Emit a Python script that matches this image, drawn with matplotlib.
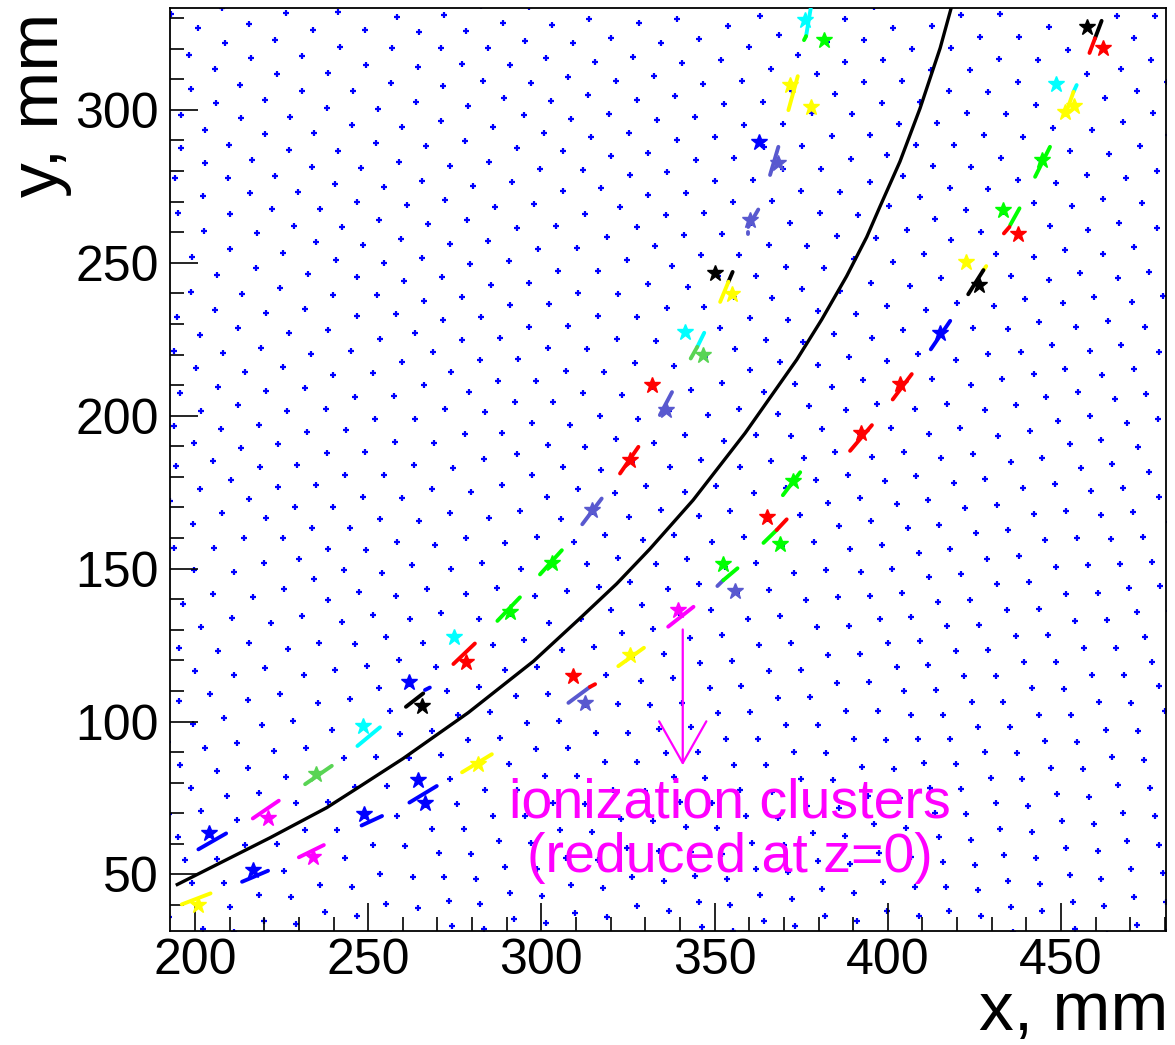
import numpy as np
import matplotlib
matplotlib.use("Agg")
import matplotlib.pyplot as plt
from matplotlib.ticker import MultipleLocator

plt.rcParams['font.family'] = ['Liberation Sans', 'DejaVu Sans']

# ROOT palette (TColor indices used in the picture)
root_col = {1: '#000000', 2: '#ff0000', 3: '#00ff00', 4: '#0000ff', 5: '#ffff00',
            6: '#ff00ff', 7: '#00ffff', 8: '#59d454', 9: '#5959cf'}

# drift chamber wire layout (layers are circles around the beam, z=0)
wire_r0 = 204.75          # radius of first visible layer, mm
wire_dr = 8.945           # layer pitch, mm
sl_first = [0, 8, 16, 24, 32, 40]          # first layer of each superlayer
sl_nwires = [165, 215, 265, 323, 370, 415]  # wires per layer
sl_phase = [0.12, 0.12, 0.0, 0.65, 0.49, 0.02]  # cell phase of even layers
odd_shift = -0.26

# reconstructed track (x, y in mm)
track_x = [194.9, 221.7, 238.0, 246.7, 260.1, 278.9, 297.7, 311.1, 321.7, 331.3,
           343.8, 358.8, 373.7, 380.9, 388.1, 393.9, 397.7, 403.5, 409.3, 415.1, 418.4]
track_y = [46.7, 62.0, 71.8, 78.1, 87.9, 102.9, 119.7, 133.7, 145.0, 156.4,
           172.4, 194.3, 218.3, 231.4, 245.6, 258.4, 268.3, 283.1, 300.5, 320.2, 333.8]

# ionization clusters (segments) : x0, y0, x1, y1, colour
seg_x0 = [196.2, 201.0, 213.6, 230.0, 216.7, 231.8, 246.9, 248.1, 261.9, 260.9, 266.4,
          274.6, 287.3, 299.6, 311.8, 322.7, 307.8, 314.0, 322.2, 336.6, 350.8, 352.5,
          364.1, 367.9, 378.0, 376.4, 374.0, 368.4, 362.6, 359.7, 355.2, 354.0, 347.0, 345.0,
          461.7, 459.8, 454.5, 453.6, 446.8, 438.0, 435.1, 428.4, 427.6, 418.0, 406.9, 395.4,
          369.7, 334.2, 277.1]
seg_y0 = [40.2, 58.2, 47.6, 55.6, 68.3, 79.5, 92.0, 66.0, 73.5, 104.8, 110.3,
          118.8, 132.9, 148.1, 164.5, 181.1, 106.1, 111.3, 118.1, 131.0, 144.3, 146.2,
          158.4, 162.6, 335.0, 324.1, 311.0, 287.9, 267.4, 260.2, 247.0, 243.8, 227.1, 222.5,
          329.1, 323.4, 308.1, 305.9, 287.9, 267.8, 261.7, 248.9, 247.6, 231.0, 213.6, 196.9,
          174.0, 200.2, 83.4]
seg_x1 = [204.5, 209.0, 221.1, 237.2, 224.2, 239.5, 253.4, 254.0, 269.8, 265.9, 267.8,
          280.8, 293.8, 305.9, 317.4, 328.0, 314.0, 315.5, 329.6, 343.9, 352.5, 356.6,
          367.9, 370.8, 376.4, 375.8, 371.3, 366.0, 359.7, 359.7, 354.0, 351.6, 345.0, 343.1,
          459.8, 458.2, 453.6, 451.2, 442.5, 435.3, 433.5, 427.6, 423.2, 412.4, 401.4, 389.1,
          374.7, 337.7, 285.7]
seg_y1 = [43.8, 63.4, 51.2, 59.6, 74.1, 85.5, 98.1, 69.1, 78.9, 109.2, 111.1,
          125.5, 140.6, 156.0, 172.9, 189.8, 111.3, 112.2, 124.1, 137.5, 146.2, 150.1,
          162.6, 166.1, 324.1, 322.8, 299.9, 278.7, 261.7, 259.4, 243.8, 237.2, 222.5, 218.7,
          323.4, 318.6, 305.9, 298.3, 278.1, 262.3, 259.6, 247.6, 239.7, 221.7, 205.3, 188.5,
          181.5, 207.7, 89.3]
seg_c = [5, 4, 4, 6, 6, 8, 7, 4, 4, 1, 4,
         2, 3, 3, 9, 2, 9, 2, 5, 6, 9, 3,
         3, 2, 7, 3, 5, 9, 9, 9, 1, 5, 7, 8,
         1, 2, 7, 5, 3, 3, 2, 5, 1, 4, 2, 2,
         3, 9, 5]

# hits (stars)
star_x = [201.0, 204.0, 216.7, 234.0, 221.0, 234.9, 248.4, 248.9, 264.3, 266.4, 261.9, 265.4,
          278.2, 274.9, 290.9, 303.0, 314.5, 325.6, 309.2, 312.6, 325.6, 339.5, 365.2, 368.9,
          352.5, 356.0, 376.1, 381.6, 371.9, 377.8, 362.7, 368.4, 360.2, 350.1, 354.9, 341.5,
          346.7, 457.4, 462.2, 448.5, 453.6, 451.0, 444.4, 433.3, 437.7, 422.6, 426.4, 415.1,
          403.5, 392.2, 372.6, 331.9, 336.0, 281.7]
star_y = [40.0, 63.6, 51.6, 55.7, 68.5, 82.7, 98.5, 69.7, 80.8, 73.2, 112.9, 105.0,
          119.5, 127.7, 135.9, 151.7, 169.3, 185.5, 114.8, 105.9, 121.9, 136.4, 166.9, 158.2,
          151.4, 142.7, 329.3, 322.8, 308.1, 301.0, 289.5, 282.5, 263.9, 246.7, 239.7, 227.4,
          219.8, 327.1, 320.3, 308.6, 301.2, 299.4, 283.6, 267.2, 259.3, 250.3, 242.7, 226.9,
          210.5, 194.2, 178.6, 210.0, 201.8, 86.2]
star_c = [5, 4, 4, 6, 6, 8, 7, 4, 4, 4, 4, 1,
          2, 7, 3, 3, 9, 2, 2, 9, 5, 6, 2, 3,
          3, 9, 7, 3, 5, 5, 4, 9, 9, 1, 5, 7,
          8, 1, 2, 7, 5, 5, 3, 3, 2, 5, 1, 4,
          2, 2, 3, 2, 9, 5]

xlim = (192.8, 480.2)
ylim = (31.5, 333.2)

fig = plt.figure(figsize=(11.75, 10.45), dpi=100)
ax = fig.add_axes([170 / 1175, 1 - 931 / 1045, 995.7 / 1175, 922.7 / 1045])

# wires
wx, wy = [], []
for n in range(-2, 44):
    r = wire_r0 + wire_dr * n
    s = max(i for i in range(len(sl_first)) if sl_first[i] <= max(n, 0))
    nw = sl_nwires[s]
    ph = sl_phase[s] + (odd_shift if n % 2 else 0.0)
    k = np.arange(0, nw // 4 + 2)
    phi = (k + ph) * 2 * np.pi / nw
    wx.append(r * np.cos(phi))
    wy.append(r * np.sin(phi))
wx = np.concatenate(wx)
wy = np.concatenate(wy)
ax.plot(wx, wy, ls='none', marker='+', ms=4.2, mew=1.6, color='#0000ff', zorder=1)

ax.plot(track_x, track_y, color='black', lw=2.4, zorder=3)

for x0, y0, x1, y1, c in zip(seg_x0, seg_y0, seg_x1, seg_y1, seg_c):
    ax.plot([x0, x1], [y0, y1], color=root_col[c], lw=2.8, solid_capstyle='round', zorder=4)

for x, y, c in zip(star_x, star_y, star_c):
    ax.plot(x, y, ls='none', marker='*', ms=12, color=root_col[c], mec=root_col[c], zorder=5)

ax.annotate('', xy=(340.8, 85.7), xytext=(340.8, 130.1),
            arrowprops=dict(arrowstyle='->,head_length=1.5,head_width=0.85', color='#ff00ff',
                            lw=1.6, mutation_scale=20, shrinkA=0, shrinkB=0), zorder=6)
ax.text(354.4, 68.7, 'ionization clusters', ha='center', va='baseline', color='#ff00ff', fontsize=40)
ax.text(354.4, 50.75, '(reduced at z=0)', ha='center', va='baseline', color='#ff00ff', fontsize=40)

ax.set_xlim(*xlim)
ax.set_ylim(*ylim)
ax.xaxis.set_major_locator(MultipleLocator(50))
ax.xaxis.set_minor_locator(MultipleLocator(10))
ax.yaxis.set_major_locator(MultipleLocator(50))
ax.yaxis.set_minor_locator(MultipleLocator(10))
ax.tick_params(which='both', direction='in', top=False, right=False, width=1.2, labelsize=36)
ax.tick_params(which='major', length=20)
ax.tick_params(which='minor', length=10)
ax.tick_params(axis='x', pad=5)
ax.tick_params(axis='y', pad=8)
for sp in ax.spines.values():
    sp.set_linewidth(1.3)

fig.text(1168 / 1175, 1 - 1030 / 1045, 'x, mm', ha='right', va='baseline', fontsize=50)
fig.text(58 / 1175, 1 - 13 / 1045, 'y, mm', rotation=90, rotation_mode='anchor',
         ha='right', va='baseline', fontsize=50)

fig.savefig('out.png', dpi=100)
